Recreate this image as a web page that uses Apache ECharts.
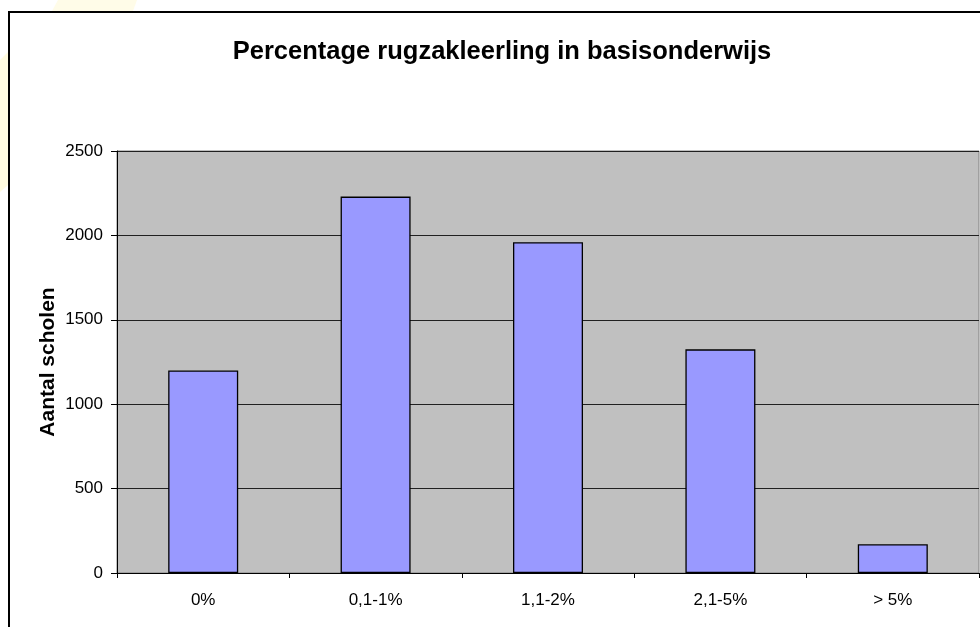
<!DOCTYPE html>
<html>
<head>
<meta charset="utf-8">
<script src="https://cdn.jsdelivr.net/npm/echarts@6/dist/echarts.min.js"></script>
<style>
html,body{margin:0;padding:0;background:#fff;}
#c{width:980px;height:627px;}
</style>
</head>
<body>
<div id="c"></div>
<script>
const categories = ['0%', '0,1-1%', '1,1-2%', '2,1-5%', '> 5%'];
const aantalScholen = [1200, 2230, 1960, 1325, 170];
const yTicks = [0, 500, 1000, 1500, 2000, 2500];

const chart = echarts.init(document.getElementById('c'), null, {renderer: 'canvas'});
const font = '"Liberation Sans", Arial, sans-serif';
chart.setOption({
  animation: false,
  backgroundColor: '#ffffff',
  graphic: [
    {type: 'polygon', z: -10, shape: {points: [[58,0],[137,0],[133,11],[52,11]]}, style: {fill: '#fffce8'}},
    {type: 'polygon', z: -10, shape: {points: [[0,60],[8,52],[8,185],[0,192]]}, style: {fill: '#fffbe0'}},
    {type: 'rect', z: 100, shape: {x: 9, y: 12, width: 990, height: 640}, style: {fill: 'none', stroke: '#000', lineWidth: 2}}
  ],
  title: {
    text: 'Percentage rugzakleerling in basisonderwijs',
    left: 497, top: 34, textAlign: 'center',
    textStyle: {fontFamily: font, fontSize: 25.5, fontWeight: 'bold', color: '#000'}
  },
  grid: {
    left: 117, top: 151, right: 1, bottom: 54,
    show: true, backgroundColor: '#c0c0c0', borderColor: '#808080', borderWidth: 1
  },
  xAxis: {
    type: 'category',
    data: categories,
    axisLine: {lineStyle: {color: '#000', width: 1}},
    axisTick: {show: true, alignWithLabel: false, length: 5, inside: false, lineStyle: {color: '#000'}},
    axisLabel: {fontFamily: font, fontSize: 17, color: '#000', margin: 19},
    splitLine: {show: false}
  },
  yAxis: {
    type: 'value',
    min: yTicks[0], max: yTicks[yTicks.length - 1], interval: 500,
    name: 'Aantal scholen',
    nameLocation: 'middle', nameGap: 58, nameMoveOverlap: false,
    nameTextStyle: {fontFamily: font, fontSize: 21, fontWeight: 'bold', color: '#000'},
    axisLine: {show: true, lineStyle: {color: '#000', width: 1}},
    axisTick: {show: true, length: 6, lineStyle: {color: '#000'}},
    axisLabel: {fontFamily: font, fontSize: 17, color: '#000', margin: 14, formatter: v => String(v)},
    splitLine: {show: true, lineStyle: {color: '#202020', width: 1}}
  },
  series: [{
    type: 'bar',
    data: aantalScholen,
    barWidth: 70,
    itemStyle: {color: '#9999ff', borderColor: '#000', borderWidth: 1.3}
  }]
});
</script>
</body>
</html>
